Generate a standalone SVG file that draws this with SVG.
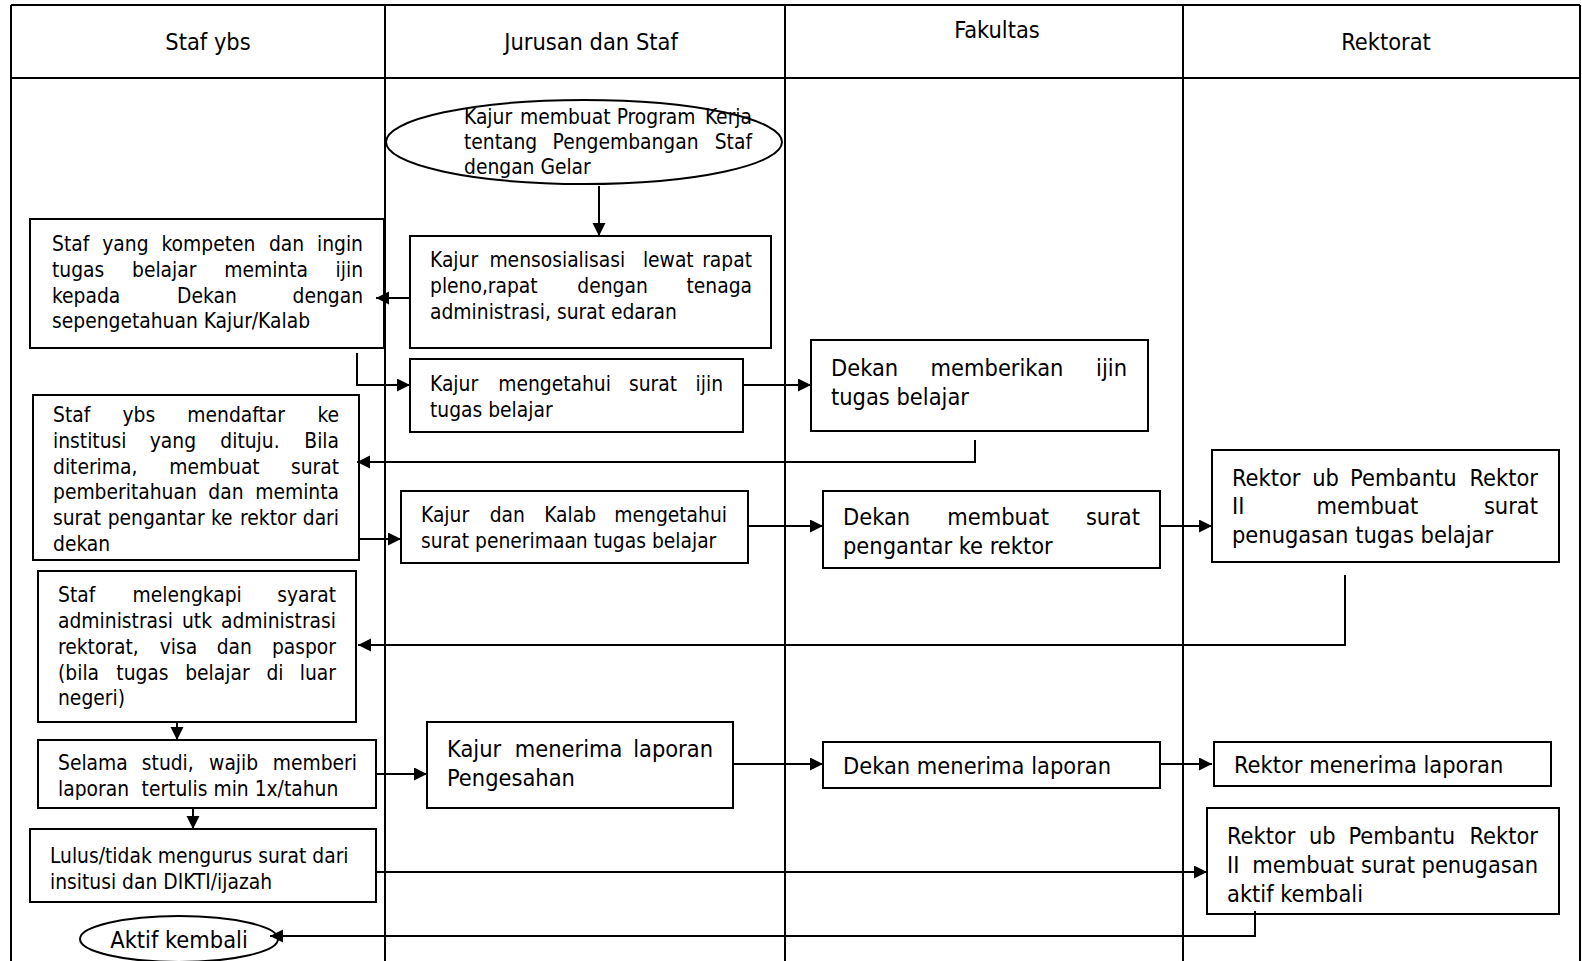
<svg xmlns="http://www.w3.org/2000/svg" width="1582" height="961" viewBox="0 0 1582 961">
<defs>
<marker id="ah" markerWidth="14" markerHeight="14" refX="13" refY="6.5" orient="auto" markerUnits="userSpaceOnUse"><path d="M0,0 L13,6.5 L0,13 z" fill="#000"/></marker>
<style>
text{font-family:"DejaVu Sans Condensed","DejaVu Sans",sans-serif;font-stretch:condensed;fill:#000}
.t{font-size:20.8px}
.L{font-size:23.4px}
.h{font-size:23.4px;text-anchor:middle}
.e{text-anchor:end}
.box{fill:#fff;stroke:#000;stroke-width:2}
.frame{stroke:#000;stroke-width:2;fill:none}
.c{stroke:#000;stroke-width:2;fill:none}
.a{marker-end:url(#ah)}
</style>
</defs>
<rect width="1582" height="961" fill="#fff"/>
<g id="frame">
<path class="frame" d="M11,5 H1580 M11,78 H1580 M11,5 V961 M385,5 V961 M785,5 V961 M1183,5 V961 M1580,5 V961"/>
<text class="h" x="208" y="50">Staf ybs</text>
<text class="h" x="591" y="50">Jurusan dan Staf</text>
<text class="h" x="997" y="38">Fakultas</text>
<text class="h" x="1386" y="50">Rektorat</text>
</g>
<g id="n-start">
<ellipse cx="584" cy="142" rx="198" ry="42" fill="none" stroke="#000" stroke-width="2"/>
<text class="t" y="124"><tspan x="464">Kajur</tspan><tspan x="520">membuat</tspan><tspan x="616.7">Program</tspan><tspan x="752" class="e">Kerja</tspan></text>
<text class="t" y="149"><tspan x="464">tentang</tspan><tspan x="552.6">Pengembangan</tspan><tspan x="752" class="e">Staf</tspan></text>
<text class="t" x="464" y="174">dengan Gelar</text>
</g>
<g id="n-sosialisasi">
<rect class="box" x="410" y="236" width="361" height="112"/>
<text class="t" y="267"><tspan x="430">Kajur</tspan><tspan x="489.4">mensosialisasi</tspan><tspan x="642.9">lewat</tspan><tspan x="752" class="e">rapat</tspan></text>
<text class="t" y="293"><tspan x="430">pleno,rapat</tspan><tspan x="577.3">dengan</tspan><tspan x="752" class="e">tenaga</tspan></text>
<text class="t" x="430" y="319">administrasi, surat edaran</text>
</g>
<g id="n-staf-ijin">
<rect class="box" x="30" y="219" width="354" height="129"/>
<text class="t" y="251"><tspan x="52">Staf</tspan><tspan x="102.3">yang</tspan><tspan x="161.5">kompeten</tspan><tspan x="268.9">dan</tspan><tspan x="363" class="e">ingin</tspan></text>
<text class="t" y="277"><tspan x="52">tugas</tspan><tspan x="132">belajar</tspan><tspan x="224.2">meminta</tspan><tspan x="363" class="e">ijin</tspan></text>
<text class="t" y="303"><tspan x="52">kepada</tspan><tspan x="177.1">Dekan</tspan><tspan x="363" class="e">dengan</tspan></text>
<text class="t" x="52" y="328">sepengetahuan Kajur/Kalab</text>
</g>
<g id="n-kajur-ijin">
<rect class="box" x="410" y="359" width="333" height="73"/>
<text class="t" y="391"><tspan x="430">Kajur</tspan><tspan x="498.2">mengetahui</tspan><tspan x="628.9">surat</tspan><tspan x="723" class="e">ijin</tspan></text>
<text class="t" x="430" y="417">tugas belajar</text>
</g>
<g id="n-dekan-ijin">
<rect class="box" x="811" y="340" width="337" height="91"/>
<text class="L" y="376"><tspan x="831">Dekan</tspan><tspan x="930.6">memberikan</tspan><tspan x="1127" class="e">ijin</tspan></text>
<text class="L" x="831" y="404.5">tugas belajar</text>
</g>
<g id="n-mendaftar">
<rect class="box" x="33" y="395" width="326" height="165"/>
<text class="t" y="422"><tspan x="53">Staf</tspan><tspan x="122.5">ybs</tspan><tspan x="187.3">mendaftar</tspan><tspan x="339" class="e">ke</tspan></text>
<text class="t" y="448"><tspan x="53">institusi</tspan><tspan x="149.8">yang</tspan><tspan x="220.3">dituju.</tspan><tspan x="339" class="e">Bila</tspan></text>
<text class="t" y="474"><tspan x="53">diterima,</tspan><tspan x="169.2">membuat</tspan><tspan x="339" class="e">surat</tspan></text>
<text class="t" y="499"><tspan x="53">pemberitahuan</tspan><tspan x="208.3">dan</tspan><tspan x="339" class="e">meminta</tspan></text>
<text class="t" y="525"><tspan x="53">surat</tspan><tspan x="107.7">pengantar</tspan><tspan x="210.9">ke</tspan><tspan x="240.1">rektor</tspan><tspan x="339" class="e">dari</tspan></text>
<text class="t" x="53" y="551">dekan</text>
</g>
<g id="n-kajur-terima">
<rect class="box" x="401" y="491" width="347" height="72"/>
<text class="t" y="522"><tspan x="421">Kajur</tspan><tspan x="489.7">dan</tspan><tspan x="544.2">Kalab</tspan><tspan x="727" class="e">mengetahui</tspan></text>
<text class="t" x="421" y="547.5">surat penerimaan tugas belajar</text>
</g>
<g id="n-dekan-pengantar">
<rect class="box" x="823" y="491" width="337" height="77"/>
<text class="L" y="525"><tspan x="843">Dekan</tspan><tspan x="947.3">membuat</tspan><tspan x="1140" class="e">surat</tspan></text>
<text class="L" x="843" y="554">pengantar ke rektor</text>
</g>
<g id="n-rektor-tugas">
<rect class="box" x="1212" y="450" width="347" height="112"/>
<text class="L" y="485.5"><tspan x="1232">Rektor</tspan><tspan x="1312.2">ub</tspan><tspan x="1350.1">Pembantu</tspan><tspan x="1538" class="e">Rektor</tspan></text>
<text class="L" y="514"><tspan x="1232">II</tspan><tspan x="1316.5">membuat</tspan><tspan x="1538" class="e">surat</tspan></text>
<text class="L" x="1232" y="543">penugasan tugas belajar</text>
</g>
<g id="n-melengkapi">
<rect class="box" x="38" y="571" width="318" height="151"/>
<text class="t" y="602"><tspan x="58">Staf</tspan><tspan x="132.6">melengkapi</tspan><tspan x="336" class="e">syarat</tspan></text>
<text class="t" y="628"><tspan x="58">administrasi</tspan><tspan x="182">utk</tspan><tspan x="336" class="e">administrasi</tspan></text>
<text class="t" y="654"><tspan x="58">rektorat,</tspan><tspan x="159.7">visa</tspan><tspan x="216.7">dan</tspan><tspan x="336" class="e">paspor</tspan></text>
<text class="t" y="680"><tspan x="58">(bila</tspan><tspan x="116.3">tugas</tspan><tspan x="185.2">belajar</tspan><tspan x="266.4">di</tspan><tspan x="336" class="e">luar</tspan></text>
<text class="t" x="58" y="705">negeri)</text>
</g>
<g id="n-laporan">
<rect class="box" x="38" y="740" width="338" height="68"/>
<text class="t" y="770"><tspan x="58">Selama</tspan><tspan x="141.8">studi,</tspan><tspan x="209.1">wajib</tspan><tspan x="357" class="e">memberi</tspan></text>
<text class="t" y="796"><tspan x="58">laporan</tspan><tspan x="141.6">tertulis min 1x/tahun</tspan></text>
</g>
<g id="n-kajur-laporan">
<rect class="box" x="427" y="722" width="306" height="86"/>
<text class="L" y="757"><tspan x="447">Kajur</tspan><tspan x="514.8">menerima</tspan><tspan x="713" class="e">laporan</tspan></text>
<text class="L" x="447" y="785.5">Pengesahan</text>
</g>
<g id="n-dekan-laporan">
<rect class="box" x="823" y="742" width="337" height="46"/>
<text class="L" x="843" y="773.5">Dekan menerima laporan</text>
</g>
<g id="n-rektor-laporan">
<rect class="box" x="1214" y="742" width="337" height="44"/>
<text class="L" x="1234" y="773">Rektor menerima laporan</text>
</g>
<g id="n-lulus">
<rect class="box" x="30" y="829" width="346" height="73"/>
<text class="t" x="50" y="863">Lulus/tidak mengurus surat dari</text>
<text class="t" x="50" y="888.5">insitusi dan DIKTI/ijazah</text>
</g>
<g id="n-rektor-aktif">
<rect class="box" x="1207" y="808" width="352" height="106"/>
<text class="L" y="844"><tspan x="1227">Rektor</tspan><tspan x="1308.9">ub</tspan><tspan x="1348.5">Pembantu</tspan><tspan x="1538" class="e">Rektor</tspan></text>
<text class="L" y="873"><tspan x="1227">II</tspan><tspan x="1252.3">membuat</tspan><tspan x="1361">surat</tspan><tspan x="1538" class="e">penugasan</tspan></text>
<text class="L" x="1227" y="902">aktif kembali</text>
</g>
<g id="n-end">
<ellipse class="box" cx="179" cy="939" rx="99" ry="23"/>
<text class="L" x="179" y="948" text-anchor="middle">Aktif kembali</text>
</g>
<g id="connectors">
<path class="c a" d="M599,186 V236"/>
<path class="c a" d="M410,298 H376"/>
<path class="c a" d="M357,353 V385 H410"/>
<path class="c a" d="M743,385 H811"/>
<path class="c a" d="M975,440 V462 H357"/>
<path class="c a" d="M359,539 H401"/>
<path class="c a" d="M748,526 H823"/>
<path class="c a" d="M1160,526 H1212"/>
<path class="c a" d="M1345,575 V645 H358"/>
<path class="c a" d="M177,722 V740"/>
<path class="c a" d="M376,774 H427"/>
<path class="c a" d="M733,764 H823"/>
<path class="c a" d="M1160,764 H1212"/>
<path class="c a" d="M193,808 V829"/>
<path class="c a" d="M375,872 H1207"/>
<path class="c a" d="M1255,911 V936 H270"/>
</g>
</svg>
